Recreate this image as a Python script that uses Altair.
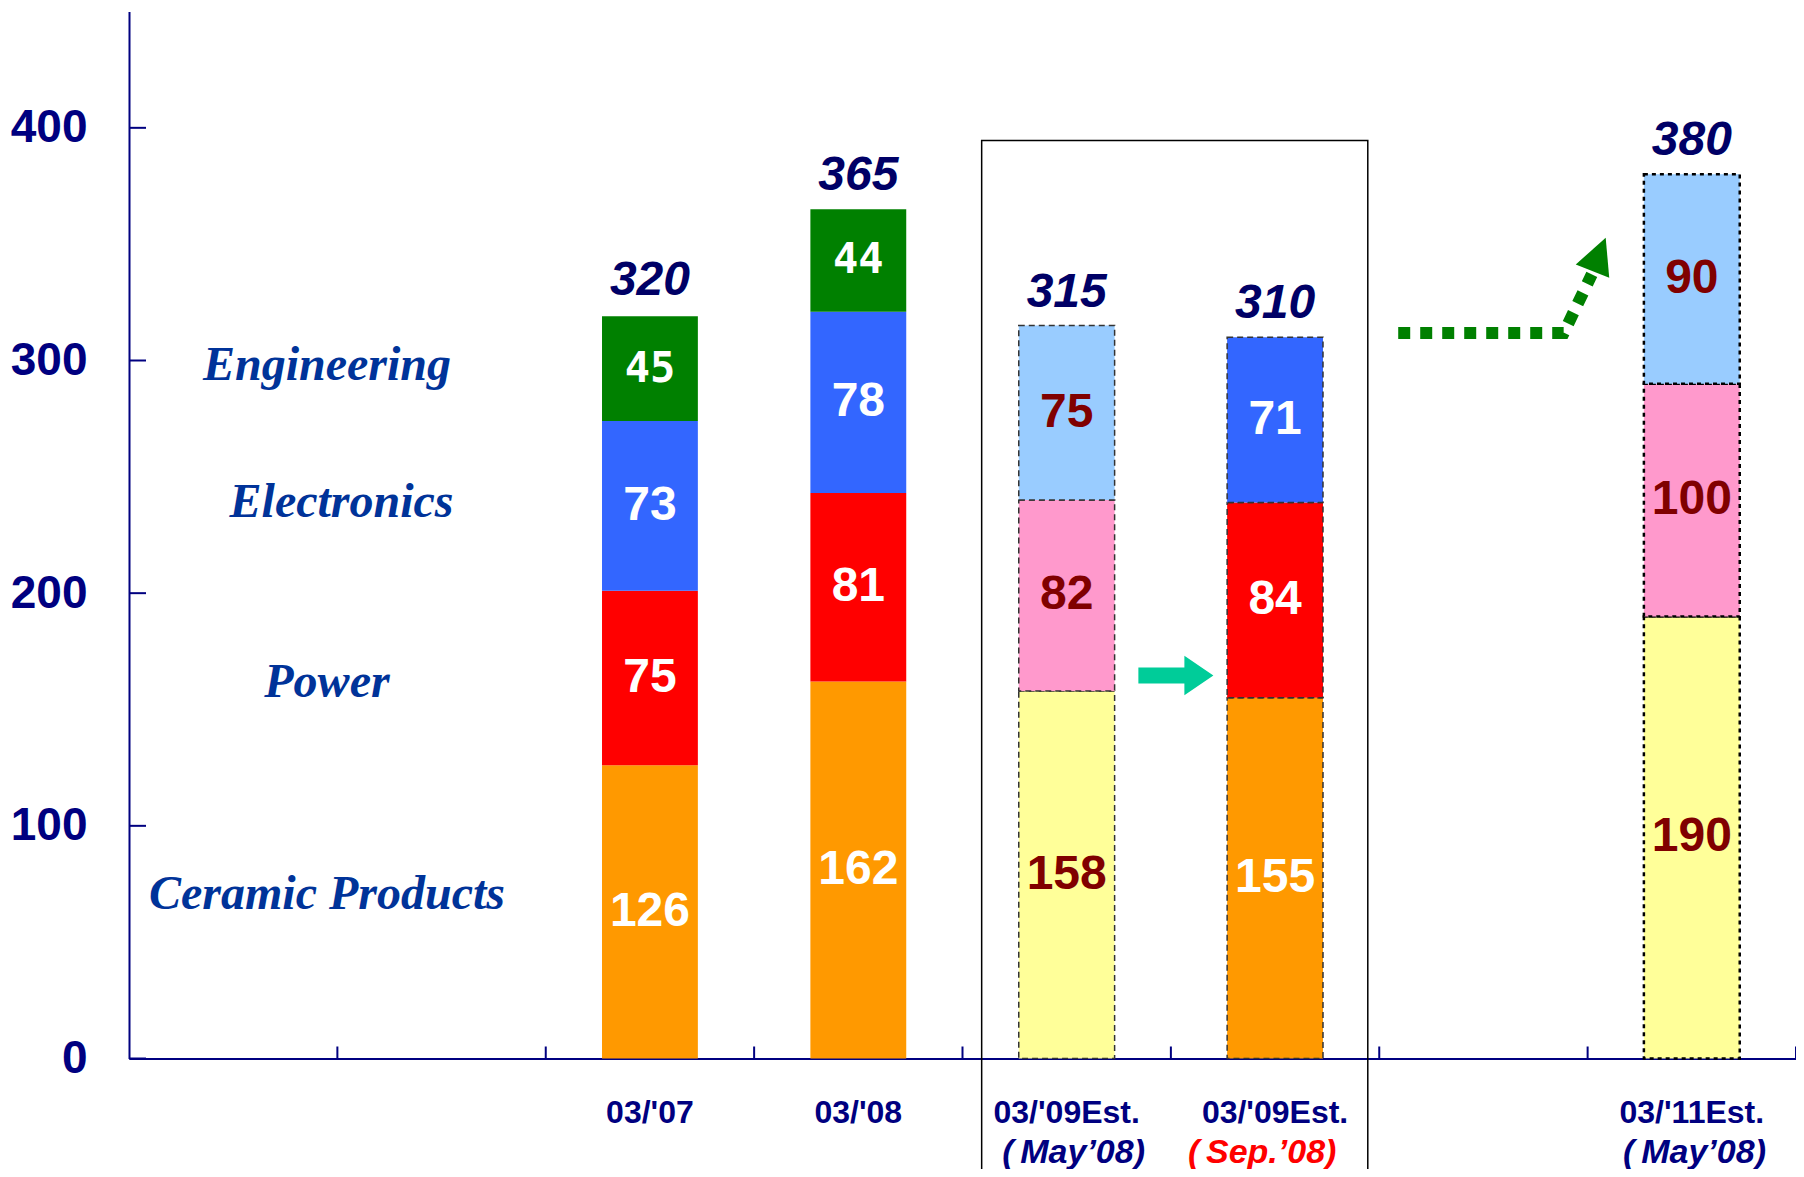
import altair as alt
import pandas as pd

# ---------------- data ----------------
periods = ["03/'07", "03/'08", "03/'09Est.", "03/'09Est.", "03/'11Est."]
period_notes = ["", "", "(\u2009May’08)", "(\u2009Sep.’08)", "(\u2009May’08)"]
note_colors = ["#000080", "#000080", "#000080", "#FF0000", "#000080"]
segments = ["Ceramic Products", "Power", "Electronics", "Engineering"]
ceramic = [126, 162, 158, 155, 190]
power = [75, 81, 82, 84, 100]
electronics = [73, 78, 75, 71, 90]
engineering = [45, 44, 0, 0, 0]
totals = [320, 365, 315, 310, 380]
bar_kind = ["actual", "actual", "est_may", "est_sep", "target"]
y_ticks = [0, 100, 200, 300, 400]

# segment name labels drawn at the left of the chart (x in slot units, y in data units)
seg_label_names = ["Engineering", "Electronics", "Power", "Ceramic Products"]
seg_label_x = [0.95, 1.02, 0.95, 0.95]
seg_label_y = [297.7, 238.7, 161.2, 70.2]

# ---------------- layout ----------------
W, H = 1667, 1047
slots = [2, 3, 4, 5, 7]          # slot index on the 8-slot axis
note_x = [2.5, 3.5, 4.533, 5.438, 7.513]   # centres of the second label line
HALF = 0.23                      # half bar width in slot units
SANS = "Liberation Sans, Arial, sans-serif"
SERIF = "Liberation Serif, Times New Roman, serif"
NAVY = "#000080"

strong = {"Ceramic Products": "#FF9900", "Power": "#FF0000",
          "Electronics": "#3366FF", "Engineering": "#008000"}
pastel = {"Ceramic Products": "#FFFF99", "Power": "#FF99CC",
          "Electronics": "#99CCFF", "Engineering": "#99CC99"}

rows = []
for i, p in enumerate(periods):
    base = 0
    is_pastel = bar_kind[i] in ("est_may", "target")
    for seg, vals in zip(segments, [ceramic, power, electronics, engineering]):
        v = vals[i]
        if not v:
            continue
        c = slots[i] + 0.5
        rows.append(dict(
            x0=c - HALF, x1=c + HALF, y0=base, y1=base + v, ymid=base + v / 2,
            value=str(v), seg=seg, kind=bar_kind[i],
            fill=(pastel if is_pastel else strong)[seg],
            tcolor="#800000" if is_pastel else "#FFFFFF",
        ))
        base += v
seg_df = pd.DataFrame(rows)

tot_df = pd.DataFrame({"xc": [s + 0.5 for s in slots], "total": totals,
                       "label": [str(t) for t in totals]})
xl_df = pd.DataFrame({"xc": [s + 0.5 for s in slots], "nx": note_x, "period": periods,
                      "note": period_notes, "ncolor": note_colors})

xs = alt.Scale(domain=[0, 8], nice=False, zero=False)
ys = alt.Scale(domain=[0, 450], nice=False)

base_enc = dict(
    x=alt.X("x0:Q", scale=xs, axis=alt.Axis(labels=False, ticks=False, grid=False, title=None,
                                             domainColor=NAVY, domainWidth=2)),
    x2="x1:Q",
    y=alt.Y("y0:Q", scale=ys, axis=alt.Axis(values=y_ticks, ticks=False, grid=False, title=None,
                                             labelFont=SANS, labelFontSize=46,
                                             labelFontWeight="bold", labelColor=NAVY,
                                             labelPadding=42, domainColor=NAVY, domainWidth=2)),
    y2="y1:Q",
    fill=alt.Fill("fill:N", scale=None),
)

bars_solid = alt.Chart(seg_df).transform_filter("datum.kind == 'actual'").mark_bar().encode(**base_enc)
bars_dash = alt.Chart(seg_df).transform_filter("datum.kind == 'est_may' || datum.kind == 'est_sep'").mark_bar(
    stroke="#333333", strokeWidth=1.5, strokeDash=[6, 4]).encode(**base_enc)
bars_dot = alt.Chart(seg_df).transform_filter("datum.kind == 'target'").mark_bar(
    stroke="#000000", strokeWidth=2.5, strokeDash=[4, 4]).encode(**base_enc)

seg_text = alt.Chart(seg_df).transform_filter("datum.seg != 'Engineering'").mark_text(
    font=SANS, fontSize=48, fontWeight="bold", baseline="middle", align="center").encode(
    x=alt.X("xc:Q", scale=xs), y=alt.Y("ymid:Q", scale=ys), text="value:N",
    color=alt.Color("tcolor:N", scale=None)).transform_calculate(xc="(datum.x0 + datum.x1) / 2")
eng_text = alt.Chart(seg_df).transform_filter("datum.seg == 'Engineering'").mark_text(
    font="DejaVu Sans Mono", fontSize=42, fontWeight="bold", baseline="middle", align="center").encode(
    x=alt.X("xc:Q", scale=xs), y=alt.Y("ymid:Q", scale=ys), text="value:N",
    color=alt.Color("tcolor:N", scale=None)).transform_calculate(xc="(datum.x0 + datum.x1) / 2")

tot_text = alt.Chart(tot_df).mark_text(
    font=SANS, fontSize=48, fontWeight="bold", fontStyle="italic", color="#000066",
    baseline="middle", align="center", dy=-33).encode(
    x=alt.X("xc:Q", scale=xs), y=alt.Y("total:Q", scale=ys), text="label:N")

xl1 = alt.Chart(xl_df).mark_text(font=SANS, fontSize=32, fontWeight="bold", color=NAVY,
                                 baseline="middle", align="center").encode(
    x=alt.X("xc:Q", scale=xs), y=alt.value(H + 54), text="period:N")
xl2 = alt.Chart(xl_df).mark_text(font=SANS, fontSize=34, fontWeight="bold", fontStyle="italic",
                                 baseline="alphabetic", align="center").encode(
    x=alt.X("nx:Q", scale=xs), y=alt.value(H + 104), text="note:N",
    color=alt.Color("ncolor:N", scale=None))

name_df = pd.DataFrame({"name": seg_label_names, "x": seg_label_x, "y": seg_label_y})
names = alt.Chart(name_df).mark_text(font=SERIF, fontSize=48, fontWeight="bold", fontStyle="italic",
                                     color="#003399", baseline="middle", align="center").encode(
    x=alt.X("x:Q", scale=xs), y=alt.Y("y:Q", scale=ys), text="name:N")

# axis ticks pointing inward
xt_df = pd.DataFrame({"t": [1, 2, 3, 4, 5, 6, 7, 8]})
xticks = alt.Chart(xt_df).mark_rule(color=NAVY, strokeWidth=2).encode(
    x=alt.X("t:Q", scale=xs), y=alt.value(H), y2=alt.value(H - 12))
yt_df = pd.DataFrame({"t": y_ticks})
yticks = alt.Chart(yt_df).mark_rule(color=NAVY, strokeWidth=2).encode(
    y=alt.Y("t:Q", scale=ys), x=alt.value(0), x2=alt.value(17))

# comparison box around the two FY03/09 estimates
box_df = pd.DataFrame({"x0": [4.092], "x1": [5.945], "y0": [-52], "y1": [394.6]})
box = alt.Chart(box_df).mark_rect(fillOpacity=0, stroke="#000000", strokeWidth=1.5).encode(
    x=alt.X("x0:Q", scale=xs), x2="x1:Q", y=alt.Y("y0:Q", scale=ys), y2="y1:Q")

# teal arrow between the two estimates
teal_df = pd.DataFrame({"x": [5.024], "y": [164.6]})
teal = alt.Chart(teal_df).mark_point(
    shape="M -1 -0.213 L 0.227 -0.213 L 0.227 -0.525 L 1 0 L 0.227 0.525 L 0.227 0.213 L -1 0.213 Z",
    size=5625, filled=True, fill="#00CC99", opacity=1, strokeWidth=0).encode(
    x=alt.X("x:Q", scale=xs), y=alt.Y("y:Q", scale=ys))

# green dotted arrow toward FY03/11
gl_df = pd.DataFrame({"x": [6.091, 6.885, 7.02], "y": [311.8, 311.8, 337.0], "o": [0, 1, 2]})
gline = alt.Chart(gl_df).mark_line(color="#008000", strokeWidth=12, strokeDash=[12, 10],
                                   strokeCap="butt").encode(
    x=alt.X("x:Q", scale=xs), y=alt.Y("y:Q", scale=ys), order="o:Q")
gh_df = pd.DataFrame({"x": [7.055], "y": [345.6]})
ghead = alt.Chart(gh_df).mark_point(shape="M 0 -1 L 1 1 L -1 1 Z", size=1296, angle=21.5,
                                    filled=True, fill="#008000", opacity=1, strokeWidth=0).encode(
    x=alt.X("x:Q", scale=xs), y=alt.Y("y:Q", scale=ys))

chart = alt.layer(
    box, bars_solid, bars_dash, bars_dot, seg_text, eng_text, tot_text,
    xl1, xl2, names, xticks, yticks, teal, gline, ghead
).properties(
    width=W, height=H,
    autosize=alt.AutoSizeParams(type="none"),
    padding={"left": 121, "top": 3.5, "right": 0, "bottom": 110},
).configure_view(stroke=None)

chart.save("out.html", embed_options={"renderer": "svg", "actions": False})
